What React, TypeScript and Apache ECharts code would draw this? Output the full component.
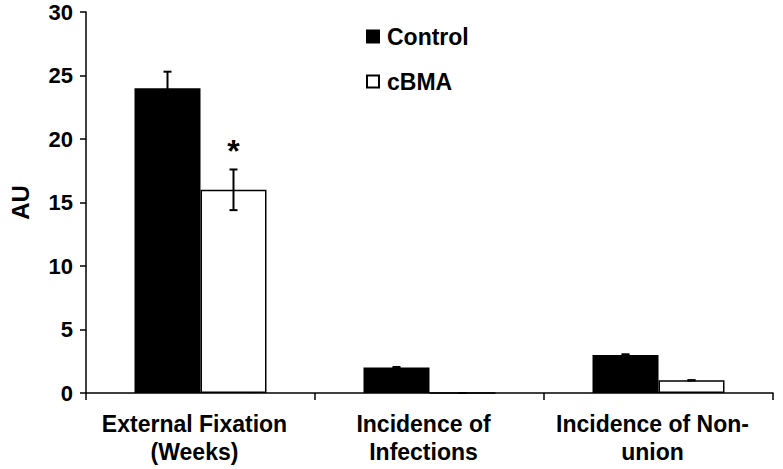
import React, { useEffect, useRef } from "react";
import * as echarts from "echarts";

const categories = ["External Fixation\n(Weeks)", "Incidence of\nInfections", "Incidence of Non-\nunion"];
const controlValues = [24, 2, 3];
const controlErrors = [1.3, 0.05, 0.05];
const cbmaValues = [16, 0, 1];
const cbmaErrors = [1.6, 0, 0];
const cbmaSignificance = ["*", "", ""];
const yTicks = { min: 0, max: 30, interval: 5 };

const FONT = "'Liberation Sans', Arial, Helvetica, sans-serif";
const BAR_W = 66;

function errorRender(offset: number, marks: string[] | null) {
  return (params: any, api: any) => {
    const idx = api.value(0);
    const v = api.value(1);
    const e = api.value(2);
    const top = api.coord([idx, v + e]);
    const bot = api.coord([idx, v - e]);
    const x = top[0] + offset;
    const cap = 4;
    const children: any[] = [
      { type: "line", shape: { x1: x, y1: top[1], x2: x, y2: bot[1] }, style: { stroke: "#000", lineWidth: 2 } },
      { type: "line", shape: { x1: x - cap, y1: top[1], x2: x + cap, y2: top[1] }, style: { stroke: "#000", lineWidth: 2 } },
      { type: "line", shape: { x1: x - cap, y1: bot[1], x2: x + cap, y2: bot[1] }, style: { stroke: "#000", lineWidth: 2 } },
    ];
    if (marks && marks[params.dataIndex]) {
      children.push({
        type: "text",
        x: x,
        y: top[1] - 2,
        style: {
          text: marks[params.dataIndex],
          font: `bold 32px ${FONT}`,
          fill: "#000",
          align: "center",
          verticalAlign: "bottom",
        },
      });
    }
    return { type: "group", children };
  };
}

export default function App() {
  const ref = useRef<HTMLDivElement>(null);
  useEffect(() => {
    if (!ref.current) return;
    const chart = echarts.init(ref.current, null, { renderer: "svg" });
    chart.setOption({
      animation: false,
      backgroundColor: "#fff",
      grid: { left: 76, right: 10, top: 12, bottom: 76 },
      legend: {
        data: ["Control", "cBMA"],
        orient: "vertical",
        left: 361,
        top: 20,
        itemWidth: 12,
        itemHeight: 12,
        itemGap: 22,
        icon: "rect",
        textStyle: { fontSize: 23, fontWeight: "bold", fontFamily: FONT, color: "#000", padding: [0, 0, 0, 3] },
      },
      xAxis: {
        type: "category",
        data: categories,
        axisLine: { lineStyle: { color: "#000", width: 1.5 } },
        axisTick: { show: true, length: 7, lineStyle: { color: "#000", width: 1.5 } },
        axisLabel: {
          color: "#000",
          fontSize: 23,
          fontWeight: "bold",
          fontFamily: FONT,
          lineHeight: 28,
          margin: 17,
          interval: 0,
          padding: [0, 12, 0, 0],
        },
      },
      yAxis: {
        type: "value",
        min: yTicks.min,
        max: yTicks.max,
        interval: yTicks.interval,
        name: "AU",
        nameLocation: "middle",
        nameRotate: 90,
        nameGap: 54,
        nameTextStyle: { color: "#000", fontSize: 24, fontWeight: "bold", fontFamily: FONT },
        axisLine: { show: true, lineStyle: { color: "#000", width: 1.5 } },
        axisTick: { show: true, length: 6, lineStyle: { color: "#000", width: 1.5 } },
        splitLine: { show: false },
        axisLabel: { color: "#000", fontSize: 22, fontWeight: "bold", fontFamily: FONT, margin: 13 },
      },
      series: [
        {
          name: "Control",
          type: "bar",
          data: controlValues,
          barWidth: BAR_W,
          barGap: "0%",
          itemStyle: { color: "#000", borderColor: "#000", borderWidth: 1.5 },
        },
        {
          name: "cBMA",
          type: "bar",
          data: cbmaValues,
          barWidth: BAR_W,
          barGap: "0%",
          itemStyle: { color: "#fff", borderColor: "#000", borderWidth: 1.5 },
        },
        {
          type: "custom",
          renderItem: errorRender(-BAR_W / 2, null),
          data: controlValues.map((v, i) => [i, v, controlErrors[i]]),
          z: 5,
        },
        {
          type: "custom",
          renderItem: errorRender(BAR_W / 2, cbmaSignificance),
          data: cbmaValues.map((v, i) => [i, v, cbmaErrors[i]]),
          z: 5,
        },
      ],
    });
    return () => chart.dispose();
  }, []);
  return <div ref={ref} style={{ position: "fixed", left: 0, top: 0, width: 783, height: 469 }} />;
}
